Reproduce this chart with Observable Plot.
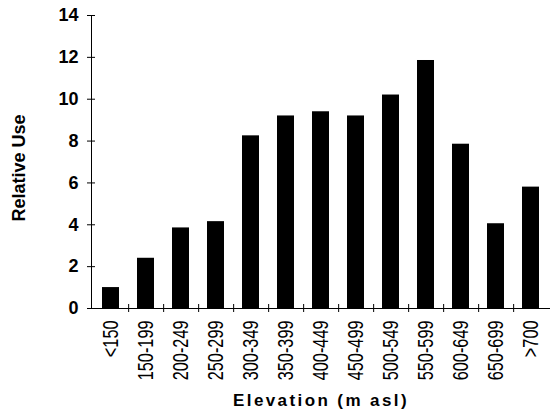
<!DOCTYPE html>
<html>
<head>
<meta charset="utf-8">
<script src="https://cdn.jsdelivr.net/npm/d3@7"></script>
<script src="https://cdn.jsdelivr.net/npm/@observablehq/plot@0.6"></script>
<style>
  html, body { margin: 0; padding: 0; background: #fff; }
  svg { display: block; }
</style>
</head>
<body>
<div id="chart"></div>
<script>
const categories = ["<150", "150-199", "200-249", "250-299", "300-349", "350-399", "400-449", "450-499", "500-549", "550-599", "600-649", "650-699", ">700"];
const values = [1.0, 2.4, 3.85, 4.15, 8.25, 9.2, 9.4, 9.2, 10.2, 11.85, 7.85, 4.05, 5.8];
const yTicks = [0, 2, 4, 6, 8, 10, 12, 14];
const yTitle = "Relative Use";
const xTitle = "Elevation (m asl)";

const data = categories.map((c, i) => ({category: c, value: values[i]}));

const W = 550, H = 419, mL = 91, mR = 0, mT = 15, mB = 111;
const step = (W - mL - mR) / categories.length;

const chart = Plot.plot({
  width: W,
  height: H,
  marginLeft: mL,
  marginRight: mR,
  marginTop: mT,
  marginBottom: mB,
  style: {fontFamily: "'Liberation Sans', Arial, sans-serif", color: "#000", background: "#fff"},
  x: {domain: categories, padding: 0.52, align: 0.5, paddingOuter: 0.26},
  y: {domain: [0, 14], ticks: yTicks},
  marks: [
    Plot.barY(data, {x: "category", y: "value", fill: "#000"}),
    Plot.frame({anchor: "left", stroke: "#000"}),
    Plot.ruleY([0], {stroke: "#000"}),
    // y tick marks crossing the axis
    Plot.axisY({ticks: yTicks, tickSize: 8, dx: 4, tickFormat: () => "", label: null}),
    // y tick labels
    Plot.axisY({ticks: yTicks, tickSize: 0, tickPadding: 13, fontSize: 18, fontWeight: "bold", label: null}),
    // x tick marks between categories
    Plot.axisX({ticks: categories.slice(0, -1), tickSize: 8, dx: step / 2, dy: -4, tickFormat: () => "", label: null}),
    // x tick labels
    Plot.axisX({tickSize: 0, tickPadding: 12, tickRotate: -90, fontSize: 22, label: null}),
    // axis titles
    Plot.text([yTitle], {frameAnchor: "left", textAnchor: "middle", dx: -72, dy: 6, rotate: -90, fontSize: 18, fontWeight: "bold", fill: "#000"}),
    Plot.text([xTitle], {frameAnchor: "bottom", dy: 97, fontSize: 17, fontWeight: "bold", fill: "#000"})
  ]
});

// condense x tick labels
chart.querySelectorAll('g[aria-label="x-axis tick label"] text').forEach(t => {
  const tr = t.getAttribute("transform") || "";
  t.setAttribute("transform", tr + " scale(0.74,1)");
});
chart.querySelectorAll('g[aria-label="text"] text').forEach(t => {
  if (t.textContent === xTitle) t.setAttribute("letter-spacing", "2.4");
});
document.getElementById("chart").appendChild(chart);
</script>
</body>
</html>
